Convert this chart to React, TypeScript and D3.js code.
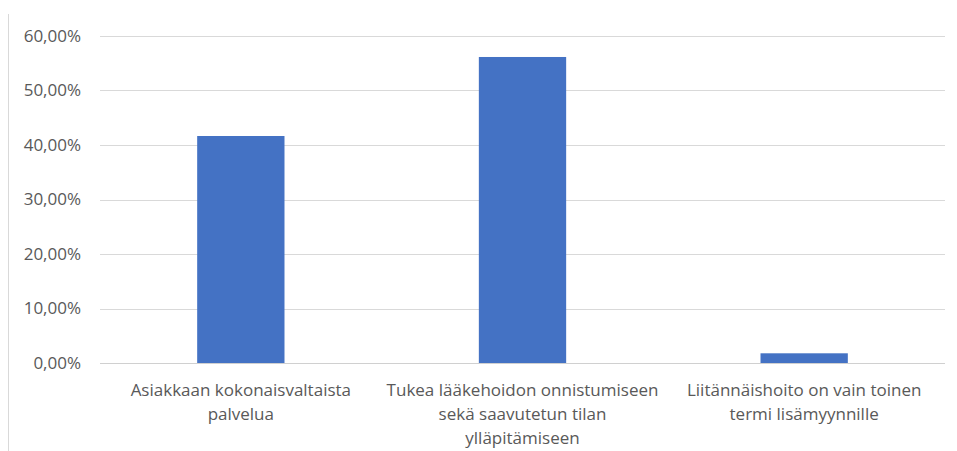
import React, { useEffect, useRef } from 'react';
import * as d3 from 'd3';

const categories = [
  ['Asiakkaan kokonaisvaltaista', 'palvelua'],
  ['Tukea lääkehoidon onnistumiseen', 'sekä saavutetun tilan', 'ylläpitämiseen'],
  ['Liitännäishoito on vain toinen', 'termi lisämyynnille'],
];
const values = [0.4165, 0.5615, 0.0178];
const yTicks = [0, 0.1, 0.2, 0.3, 0.4, 0.5, 0.6];

const W = 957;
const H = 451;

const App: React.FC = () => {
  const svgRef = useRef<SVGSVGElement>(null);

  useEffect(() => {
    if (!svgRef.current) return;
    const svg = d3.select(svgRef.current);
    svg.selectAll('*').remove();

    const left = 100, right = 945, top = 36, bottom = 363;
    const x = d3.scaleBand<number>().domain(d3.range(values.length)).range([left, right]).padding(0);
    const y = d3.scaleLinear().domain([0, 0.6]).range([bottom, top]);
    const barW = x.bandwidth() * 0.31;
    const fmt = (v: number) => (v * 100).toFixed(2).replace('.', ',') + '%';

    // frame line on the left
    svg.append('line')
      .attr('x1', 8.5).attr('x2', 8.5).attr('y1', 14).attr('y2', H)
      .attr('stroke', '#d9d9d9');

    // gridlines
    svg.append('g').selectAll('line').data(yTicks).enter().append('line')
      .attr('x1', left).attr('x2', right)
      .attr('y1', d => Math.round(y(d)) + 0.5).attr('y2', d => Math.round(y(d)) + 0.5)
      .attr('stroke', d => (d === 0 ? '#d0d0d0' : '#d9d9d9'));

    // tick labels
    svg.append('g').selectAll('text').data(yTicks).enter().append('text')
      .attr('x', 81).attr('y', d => y(d)).attr('dy', '0.35em')
      .attr('text-anchor', 'end')
      .attr('font-family', '"Open Sans", sans-serif').attr('font-size', 17)
      .attr('fill', '#595959')
      .text(d => fmt(d));

    // bars
    svg.append('g').selectAll('rect').data(values).enter().append('rect')
      .attr('x', (_, i) => x(i)! + (x.bandwidth() - barW) / 2)
      .attr('width', barW)
      .attr('y', d => y(d))
      .attr('height', d => bottom - y(d))
      .attr('fill', '#4472c4');

    // category labels
    const lab = svg.append('g').selectAll('text').data(categories).enter().append('text')
      .attr('text-anchor', 'middle')
      .attr('font-family', '"Open Sans", sans-serif').attr('font-size', 17)
      .attr('fill', '#595959');
    lab.each(function (lines, i) {
      const t = d3.select(this);
      lines.forEach((l, j) => {
        t.append('tspan')
          .attr('x', x(i)! + x.bandwidth() / 2)
          .attr('y', 390 + j * 24)
          .attr('dy', '0.35em')
          .text(l);
      });
    });
  }, []);

  return (
    <svg ref={svgRef} width={W} height={H}
      style={{ position: 'absolute', left: 0, top: 0, background: '#fff' }} />
  );
};

export default App;
